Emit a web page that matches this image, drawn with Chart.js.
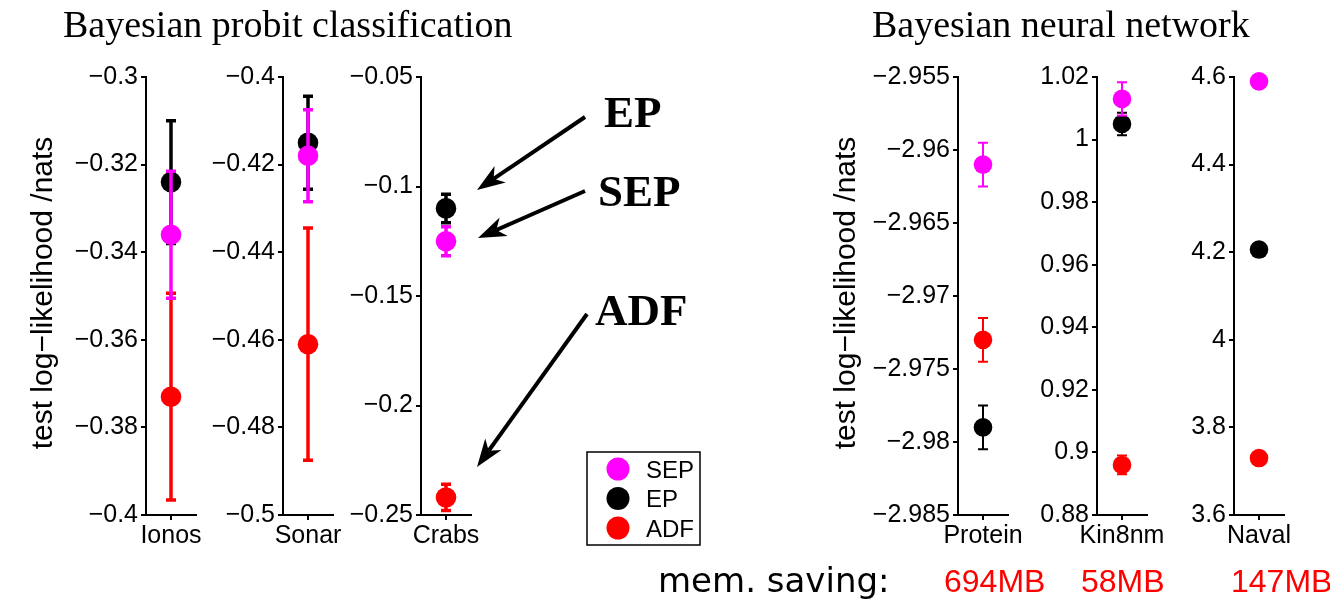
<!DOCTYPE html>
<html>
<head>
<meta charset="utf-8">
<script src="https://cdn.jsdelivr.net/npm/chart.js@4.4.1/dist/chart.umd.min.js"></script>
<style>
  body { margin:0; background:#fff; }
  #fig { position:relative; width:1330px; height:600px; overflow:hidden; background:#fff; }
  #fig canvas { position:absolute; }
  #over { position:absolute; left:0; top:0; pointer-events:none; }
</style>
</head>
<body>
<div id="fig">
  <svg id="over" width="1330" height="600" xmlns="http://www.w3.org/2000/svg"></svg>
</div>
<script>
const methods = ["SEP", "EP", "ADF"];
const methodColor = ["#ff00ff", "#000000", "#ff0000"];

// mean test log-likelihood (SEP, EP, ADF) and error bar half-width
const ionosMean = [-0.336, -0.324, -0.373];
const ionosErr = [0.0145, 0.014, 0.0236];
const sonarMean = [-0.418, -0.415, -0.461];
const sonarErr = [0.0105, 0.0106, 0.0265];
const crabsMean = [-0.125, -0.110, -0.242];
const crabsErr = [0.0066, 0.0065, 0.006];
const proteinMean = [-2.961, -2.979, -2.973];
const proteinErr = [0.0015, 0.0015, 0.0015];
const kin8nmMean = [1.013, 1.005, 0.896];
const kin8nmErr = [0.0053, 0.0036, 0.003];
const navalMean = [4.590, 4.206, 3.730];
const navalErr = [0.004, 0.004, 0.004];

const ionosTicks = [-0.4, -0.38, -0.36, -0.34, -0.32, -0.3];
const sonarTicks = [-0.5, -0.48, -0.46, -0.44, -0.42, -0.4];
const crabsTicks = [-0.25, -0.2, -0.15, -0.1, -0.05];
const proteinTicks = [-2.985, -2.98, -2.975, -2.97, -2.965, -2.96, -2.955];
const kin8nmTicks = [0.88, 0.9, 0.92, 0.94, 0.96, 0.98, 1, 1.02];
const navalTicks = [3.6, 3.8, 4, 4.2, 4.4, 4.6];

const memSaving = ["694MB", "58MB", "147MB"];

const panels = [
  {name:"Ionos",   mean:ionosMean,   err:ionosErr,   ticks:ionosTicks,   axisX:146,  big:true},
  {name:"Sonar",   mean:sonarMean,   err:sonarErr,   ticks:sonarTicks,   axisX:283,  big:true},
  {name:"Crabs",   mean:crabsMean,   err:crabsErr,   ticks:crabsTicks,   axisX:421,  big:true},
  {name:"Protein", mean:proteinMean, err:proteinErr, ticks:proteinTicks, axisX:958,  big:false},
  {name:"Kin8nm",  mean:kin8nmMean,  err:kin8nmErr,  ticks:kin8nmTicks,  axisX:1097, big:false},
  {name:"Naval",   mean:navalMean,   err:navalErr,   ticks:navalTicks,   axisX:1234, big:false},
];

const AXIS_W = 120, PAD_T = 20, PAD_R = 50, PLOT_W = 50, PLOT_H = 438, AXIS_H = 45, TOP = 57;
const SANS = "'Liberation Sans', Arial, sans-serif";
const SERIF = "'Liberation Serif', 'Times New Roman', serif";

Chart.defaults.font.family = SANS;

function fmt(v){ return String(+Number(v).toFixed(3)).replace("-", "\u2212"); }

// vertical error bars with caps, drawn under each dataset's points
const errorBars = {
  id: "errorBars",
  beforeDatasetDraw(chart, args, opts){
    const ds = chart.data.datasets[args.index];
    const xs = chart.scales.x, ys = chart.scales.y, ctx = chart.ctx;
    ctx.save();
    ctx.strokeStyle = ds.backgroundColor;
    ctx.lineWidth = opts.width;
    ds.data.forEach(p => {
      const px = xs.getPixelForValue(p.x);
      const t = ys.getPixelForValue(p.y + p.err), b = ys.getPixelForValue(p.y - p.err);
      ctx.beginPath();
      ctx.moveTo(px, t); ctx.lineTo(px, b);
      ctx.moveTo(px - opts.cap, t); ctx.lineTo(px + opts.cap, t);
      ctx.moveTo(px - opts.cap, b); ctx.lineTo(px + opts.cap, b);
      ctx.stroke();
    });
    ctx.restore();
  }
};

function makePanel(p){
  const cv = document.createElement("canvas");
  cv.width = AXIS_W + PLOT_W + PAD_R;
  cv.height = PAD_T + PLOT_H + AXIS_H;
  cv.style.left = (p.axisX - AXIS_W) + "px";
  cv.style.top = TOP + "px";
  document.getElementById("fig").insertBefore(cv, document.getElementById("over"));
  const r = p.big ? 10.3 : 9.3;
  return new Chart(cv, {
    type: "scatter",
    data: { datasets: methods.map((m, i) => ({
      label: m,
      data: [{x:1, y:p.mean[i], err:p.err[i]}],
      backgroundColor: methodColor[i], borderColor: methodColor[i], borderWidth: 0,
      pointRadius: r, pointHoverRadius: r, clip: false
    }))},
    options: {
      responsive:false, animation:false, events:[],
      layout:{ padding:{ top:PAD_T, right:PAD_R, left:0, bottom:0 } },
      plugins:{ legend:{display:false}, tooltip:{enabled:false},
        errorBars:{ width: p.big ? 3.5 : 2, cap: 5 } },
      scales:{
        x:{ type:"linear", min:0, max:2,
          afterBuildTicks: s => { s.ticks = [{value:1}]; },
          afterFit: s => { s.height = AXIS_H; },
          ticks:{ callback: () => p.name, color:"#000", font:{size:25}, maxRotation:0, autoSkip:false, padding:1 },
          grid:{ drawOnChartArea:false, color:"#000", lineWidth:2, tickLength:5 },
          border:{ color:"#000", width:2 } },
        y:{ type:"linear", min:p.ticks[0], max:p.ticks[p.ticks.length-1],
          afterBuildTicks: s => { s.ticks = p.ticks.map(v => ({value:v})); },
          afterFit: s => { s.width = AXIS_W; },
          ticks:{ callback: v => fmt(v), color:"#000", font:{size:25}, autoSkip:false, padding:3 },
          grid:{ drawOnChartArea:false, color:"#000", lineWidth:2, tickLength:5 },
          border:{ color:"#000", width:2 } }
      }
    },
    plugins:[errorBars]
  });
}

function svgEl(tag, attrs, text){
  const el = document.createElementNS("http://www.w3.org/2000/svg", tag);
  for (const k in attrs) el.setAttribute(k, attrs[k]);
  if (text !== undefined) el.textContent = text;
  document.getElementById("over").appendChild(el);
  return el;
}

function arrow(x1, y1, x2, y2){
  const a = Math.atan2(y2 - y1, x2 - x1), L = 28, W = 10, N = 20;
  const bx = x2 - L*Math.cos(a), by = y2 - L*Math.sin(a);
  const nx = x2 - N*Math.cos(a), ny = y2 - N*Math.sin(a);
  const px = -Math.sin(a), py = Math.cos(a);
  svgEl("line", {x1, y1, x2:nx, y2:ny, stroke:"#000", "stroke-width":4});
  svgEl("polygon", {fill:"#000", points:
    `${x2},${y2} ${bx+px*W},${by+py*W} ${nx},${ny} ${bx-px*W},${by-py*W}`});
}

function drawDecor(){
  svgEl("text", {x:63, y:37, "font-family":SERIF, "font-size":38}, "Bayesian probit classification");
  svgEl("text", {x:872, y:37, "font-family":SERIF, "font-size":38}, "Bayesian neural network");
  [52, 855].forEach(x => svgEl("text", {transform:`translate(${x},293) rotate(-90)`, "text-anchor":"middle",
    "font-family":SANS, "font-size":30}, "test log\u2212likelihood /nats"));

  // method annotations on the Crabs panel
  [["EP", 604, 127], ["SEP", 598, 206], ["ADF", 595, 325]].forEach(([t, x, y]) =>
    svgEl("text", {x, y, "font-family":SERIF, "font-weight":"bold", "font-size":45}, t));
  arrow(585, 117, 477, 190);
  arrow(585, 191, 478, 238);
  arrow(587, 314, 477, 467);

  // legend box
  svgEl("rect", {x:587, y:452, width:113, height:93, fill:"#fff", stroke:"#000", "stroke-width":1.5});
  methods.forEach((m, i) => {
    const cy = 469 + i*29.5;
    svgEl("circle", {cx:618, cy, r:11.5, fill:methodColor[i]});
    svgEl("text", {x:646, y:cy + 8.5, "font-family":SANS, "font-size":24}, m);
  });

  svgEl("text", {x:658, y:592, "font-family":"'DejaVu Sans', sans-serif", "font-size":34}, "mem. saving:");
  [944, 1081, 1231].forEach((x, i) =>
    svgEl("text", {x, y:592, "font-family":SANS, "font-size":32, fill:"#ff0000"}, memSaving[i]));
}

window.addEventListener("DOMContentLoaded", () => {
  panels.forEach(makePanel);
  drawDecor();
});
</script>
</body>
</html>
